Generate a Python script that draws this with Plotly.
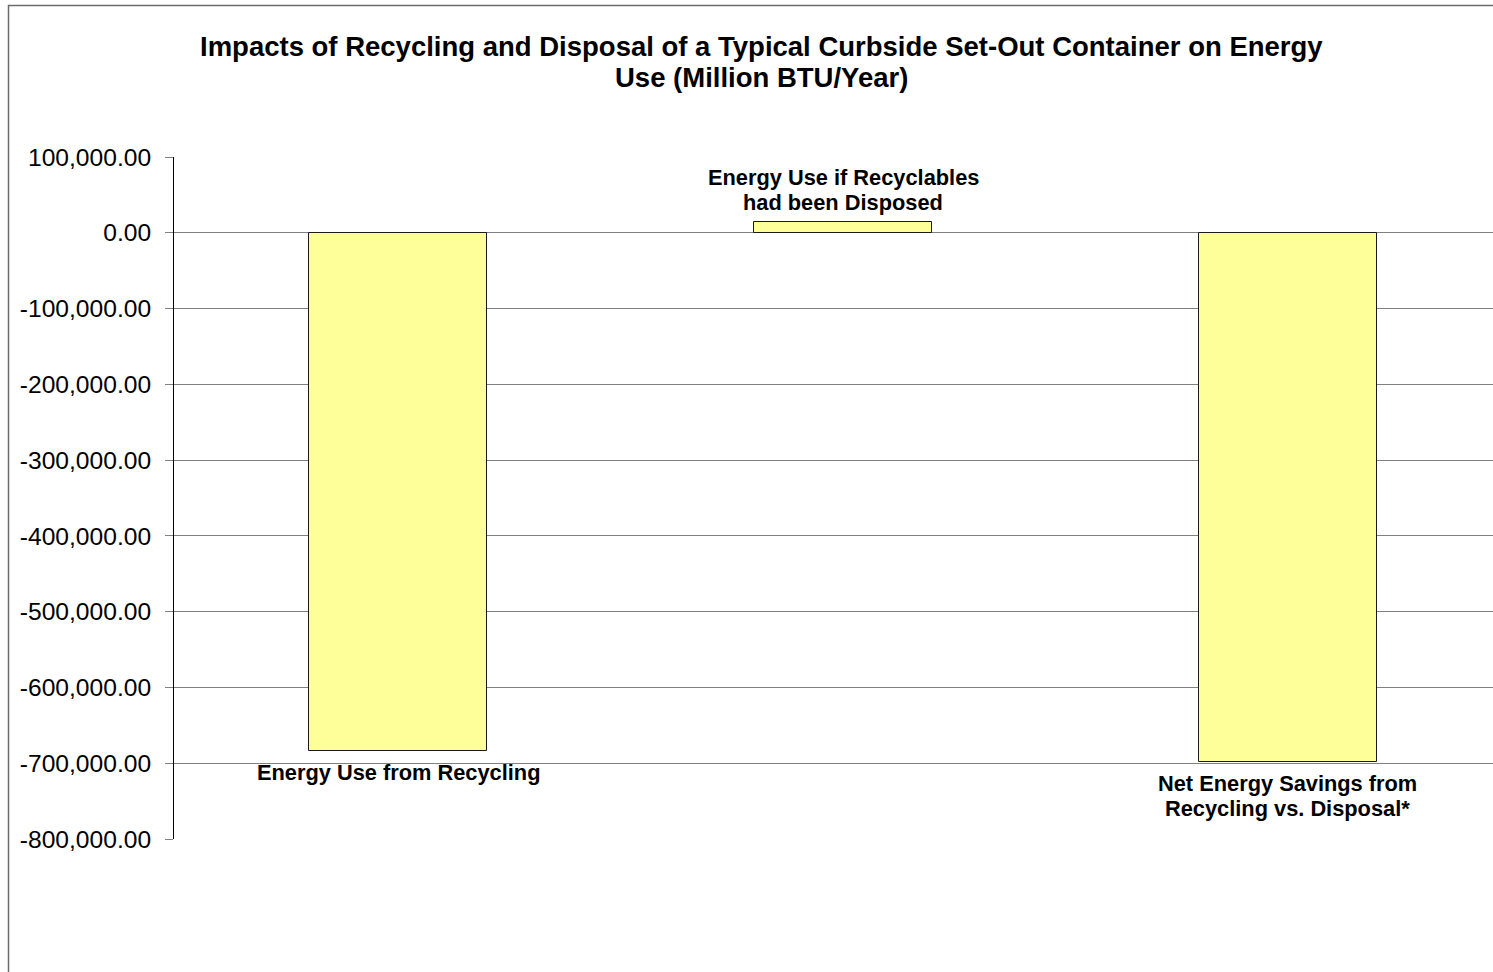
import plotly.graph_objects as go

# Category labels (line breaks mark where each label wraps)
categories = [
    "Energy Use from Recycling",
    "Energy Use if Recyclables<br>had been Disposed",
    "Net Energy Savings from<br>Recycling vs. Disposal*",
]
# Energy use, million BTU per year
energy_values = [-684300, 14500, -698800]

# Value axis ticks
tick_values = [100000, 0, -100000, -200000, -300000, -400000, -500000, -600000, -700000, -800000]
tick_labels = ["100,000.00", "0.00", "-100,000.00", "-200,000.00", "-300,000.00",
               "-400,000.00", "-500,000.00", "-600,000.00", "-700,000.00", "-800,000.00"]

title_lines = [
    "Impacts of Recycling and Disposal of a Typical Curbside Set-Out Container on Energy",
    "Use (Million BTU/Year)",
]

FONT = "Liberation Sans, Arial, sans-serif"
x_pos = list(range(len(categories)))

# Plot-area geometry in pixels
M_LEFT, M_TOP, M_BOTTOM = 174, 157, 133
PLOT_W = 1493 - M_LEFT
PLOT_H = 972 - M_TOP - M_BOTTOM


def px_to_paper_x(px):
    return (px - M_LEFT) / PLOT_W


def px_to_paper_y(py):
    return (972 - M_BOTTOM - py) / PLOT_H


fig = go.Figure(
    go.Bar(
        x=x_pos,
        y=energy_values,
        width=0.4,
        marker=dict(color="#FFFF99", line=dict(color="#1a1a1a", width=1)),
        hoverinfo="skip",
    )
)

# Category names placed at the end of each bar, one annotation per line
label_size = 21.8
line_gap = 25
for xi, (name, val) in enumerate(zip(categories, energy_values)):
    lines = name.split("<br>")
    for li, line in enumerate(lines):
        if val < 0:
            shift = -(7 + li * line_gap)
            anchor = "top"
        else:
            shift = 5 + (len(lines) - 1 - li) * line_gap
            anchor = "bottom"
        fig.add_annotation(
            x=xi, y=val, xref="x", yref="y", text=f"<b>{line}</b>",
            showarrow=False, yanchor=anchor, xanchor="center", yshift=shift,
            font=dict(family=FONT, size=label_size, color="#000000"),
        )

# Two-line chart title
for li, line in enumerate(title_lines):
    fig.add_annotation(
        x=px_to_paper_x(761), y=px_to_paper_y(46.5 + li * 30.5),
        xref="paper", yref="paper", text=f"<b>{line}</b>",
        showarrow=False, xanchor="center", yanchor="middle",
        font=dict(family=FONT, size=27.5, color="#000000"),
    )

# Chart border
fig.add_shape(
    type="rect", xref="paper", yref="paper",
    x0=px_to_paper_x(8.5), x1=1.05, y0=-0.4, y1=px_to_paper_y(5.5),
    line=dict(color="#6b6b6b", width=1.5), fillcolor="rgba(0,0,0,0)", layer="below",
)

fig.update_layout(
    width=1493,
    height=972,
    margin=dict(l=M_LEFT, r=0, t=M_TOP, b=M_BOTTOM),
    paper_bgcolor="#FFFFFF",
    plot_bgcolor="#FFFFFF",
    showlegend=False,
    bargap=0,
    xaxis=dict(
        range=[-0.5045, 2.4615],
        showticklabels=False,
        ticks="",
        showgrid=False,
        zeroline=False,
        showline=False,
        fixedrange=True,
    ),
    yaxis=dict(
        range=[-800000, 100000],
        tickvals=tick_values,
        ticktext=tick_labels,
        ticks="outside",
        ticklen=8,
        tickcolor="#808080",
        tickwidth=1,
        ticklabelstandoff=9,
        tickfont=dict(family=FONT, size=24.6, color="#000000"),
        showgrid=True,
        gridcolor="#808080",
        gridwidth=1,
        zeroline=True,
        zerolinecolor="#808080",
        zerolinewidth=1,
        showline=True,
        linecolor="#000000",
        linewidth=1,
        fixedrange=True,
    ),
)

fig.write_html("out.html")
